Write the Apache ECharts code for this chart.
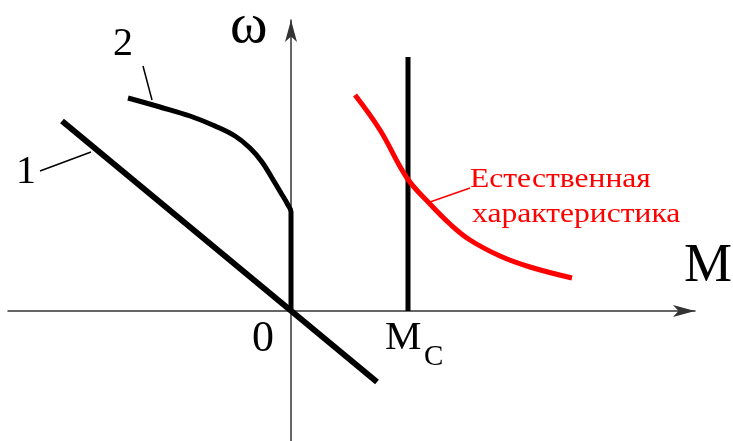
<!DOCTYPE html>
<html><head><meta charset="utf-8">
<script src="https://cdn.jsdelivr.net/npm/echarts@6/dist/echarts.min.js"></script>
<style>html,body{margin:0;padding:0;background:#fff}#c{width:733px;height:441px}</style>
</head><body><div id="c"></div>
<script>
// Characteristic 1 (straight line through origin)
const line1X = [-2.29, 0.86];
const line1Y = [1.90, -0.71];
// Characteristic 2
const curve2X = [-1.63, -1.31, -1.01, -0.76, -0.56, -0.41, -0.29, -0.19, -0.10, -0.03, 0.00, 0.00];
const curve2Y = [2.13, 2.04, 1.95, 1.85, 1.75, 1.63, 1.49, 1.33, 1.18, 1.06, 0.99, 0.00];
// Load torque Mc (vertical line)
const mcX = [1.17, 1.17];
const mcY = [2.54, 0.00];
// Natural characteristic (red)
const naturalX = [0.64, 0.89, 1.16, 1.39, 1.59, 1.79, 2.09, 2.39, 2.81];
const naturalY = [2.16, 1.81, 1.33, 1.07, 0.87, 0.71, 0.55, 0.44, 0.33];

const zip = (xs, ys) => xs.map((x, i) => [x, ys[i]]);
const serif = '"Liberation Serif", "DejaVu Serif", serif';

const chart = echarts.init(document.getElementById('c'), null, {renderer: 'canvas'});
chart.setOption({
  animation: false,
  backgroundColor: '#fff',
  grid: {left: 8, right: 38, top: 20, bottom: 0},
  xAxis: {
    type: 'value', min: -2.83, max: 4.04,
    axisLine: {onZero: true, symbol: ['none', 'arrow'], symbolSize: [9, 22],
      lineStyle: {color: '#333', width: 1.5}},
    axisTick: {show: false}, axisLabel: {show: false}, splitLine: {show: false}
  },
  yAxis: {
    type: 'value', min: -1.30, max: 2.91,
    axisLine: {onZero: true, symbol: ['none', 'arrow'], symbolSize: [9, 22],
      lineStyle: {color: '#333', width: 1.5}},
    axisTick: {show: false}, axisLabel: {show: false}, splitLine: {show: false}
  },
  series: [
    {type: 'line', data: zip(line1X, line1Y), showSymbol: false,
      lineStyle: {color: '#000', width: 6}},
    {type: 'line', data: zip(curve2X, curve2Y), showSymbol: false, smooth: 0.4,
      lineStyle: {color: '#000', width: 5}},
    {type: 'line', data: zip(mcX, mcY), showSymbol: false,
      lineStyle: {color: '#000', width: 5}},
    {type: 'line', data: zip(naturalX, naturalY), showSymbol: false, smooth: 0.4,
      lineStyle: {color: '#f00', width: 5}}
  ],
  graphic: [
    {type: 'text', left: 230, top: -1, style: {text: 'ω', font: '57px ' + serif, fill: '#000'}},
    {type: 'text', left: 684, top: 240, style: {text: 'M', font: '54px ' + serif, fill: '#000'}},
    {type: 'text', left: 252, top: 317, style: {text: '0', font: '44px ' + serif, fill: '#000'}},
    {type: 'text', left: 385, top: 318, style: {text: 'M', font: '41px ' + serif, fill: '#000'}},
    {type: 'text', left: 424, top: 343, style: {text: 'C', font: '29px ' + serif, fill: '#000'}},
    {type: 'text', left: 16, top: 152, style: {text: '1', font: '40px ' + serif, fill: '#000'}},
    {type: 'text', left: 113, top: 24, style: {text: '2', font: '40px ' + serif, fill: '#000'}},
    {type: 'line', shape: {x1: 40, y1: 171, x2: 91, y2: 152}, style: {stroke: '#000', lineWidth: 1.5}},
    {type: 'line', shape: {x1: 143, y1: 66, x2: 152, y2: 100}, style: {stroke: '#000', lineWidth: 1.5}},
    {type: 'line', shape: {x1: 430, y1: 202, x2: 470, y2: 188}, style: {stroke: '#f00', lineWidth: 1.5}},
    {type: 'text', x: 470, y: 166, scaleX: 1.17, style: {text: 'Естественная', font: '27px ' + serif, fill: '#f00'}},
    {type: 'text', x: 472, y: 201, scaleX: 1.17, style: {text: 'характеристика', font: '27px ' + serif, fill: '#f00'}}
  ]
});
</script></body></html>
